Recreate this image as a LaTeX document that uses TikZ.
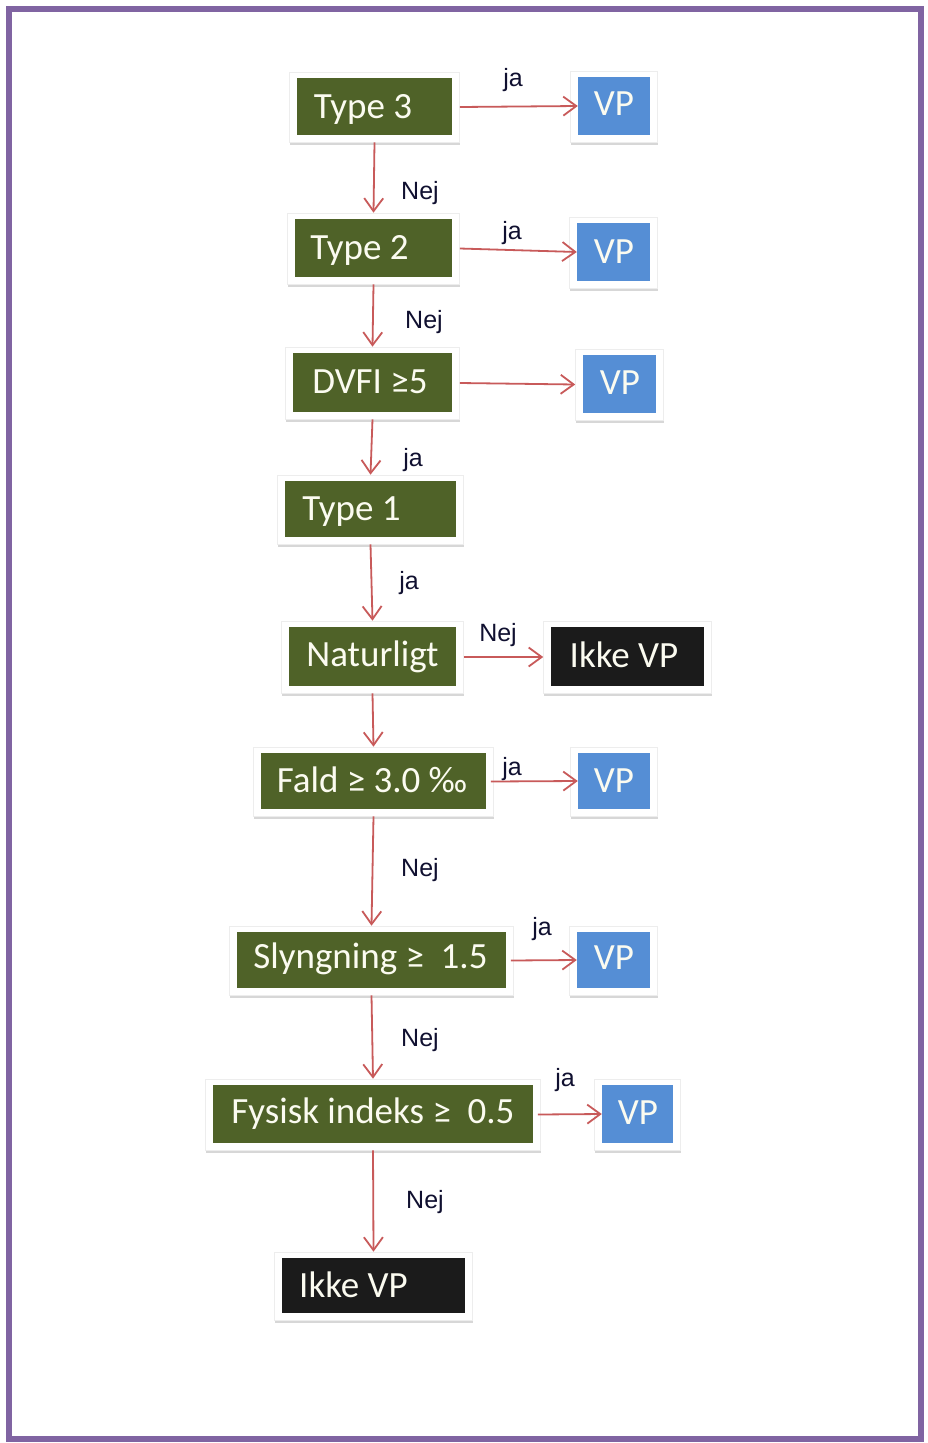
\documentclass[tikz,border=0pt]{standalone}
\usepackage{fontspec}
\setmainfont{Carlito}
\newfontfamily\lblfont{Liberation Sans}
\usetikzlibrary{arrows.meta,shadows}
\definecolor{frameC}{HTML}{8064A2}
\definecolor{greenC}{HTML}{4F6228}
\definecolor{blueC}{HTML}{558ED5}
\definecolor{blackC}{HTML}{1B1B1B}
\definecolor{arrC}{HTML}{C85A5A}
\definecolor{lblC}{HTML}{101030}
\definecolor{txtC}{HTML}{FBFBF0}
\tikzset{
  outerbox/.style={rectangle, inner sep=0pt, fill=white, draw=black!7, line width=0.6pt,
    drop shadow={shadow xshift=0.5pt, shadow yshift=-3pt, opacity=0.22, fill=black!70}},
  innerbox/.style={rectangle, inner sep=0pt, draw=none},
  boxtxt/.style={anchor=base, inner sep=0pt, text=txtC, font=\fontsize{37}{40}\selectfont},
  lbl/.style={inner sep=0pt, text=lblC, font=\lblfont\fontsize{25}{28}\selectfont},
  arr/.style={draw=arrC, line width=1.8pt, -{Straight Barb[length=13pt,width=19pt,line width=1.8pt]}}
}
% name, x1, y1, x2, y2 (inner rectangle), fill colour
\newcommand\mkbox[6]{%
  \pgfmathsetmacro\bxw{#4-#2}\pgfmathsetmacro\bxh{#5-#3}%
  \pgfmathsetmacro\bxc{(#2+#4)/2}\pgfmathsetmacro\byc{(#3+#5)/2}%
  \node[outerbox, minimum width=\bxw pt+15pt, minimum height=\bxh pt+13pt] (#1) at (\bxc,\byc+0.5) {};
  \node[innerbox, fill=#6, minimum width=\bxw pt, minimum height=\bxh pt] (#1i) at (\bxc,\byc) {};
}
\begin{document}
\begin{tikzpicture}[x=1pt,y=-1pt]
\useasboundingbox (0,0) rectangle (927,1443);
\fill[white] (0,0) rectangle (927,1443);
\draw[frameC, line width=6pt] (8.5,8.5) rectangle (921,1439);

\mkbox{t3}{297}{78}{452}{135}{greenC}
\mkbox{vpa}{578}{77}{650}{135}{blueC}
\mkbox{t2}{295}{219}{452}{277}{greenC}
\mkbox{vpb}{577}{223}{650}{281}{blueC}
\mkbox{dv}{293}{353}{452}{412}{greenC}
\mkbox{vpc}{583}{355}{656}{413}{blueC}
\mkbox{t1}{285}{481}{456}{537}{greenC}
\mkbox{nat}{289}{627}{456}{686}{greenC}
\mkbox{ika}{551}{627}{704}{686}{blackC}
\mkbox{fal}{261}{753}{486}{809}{greenC}
\mkbox{vpd}{578}{753}{650}{809}{blueC}
\mkbox{sly}{237}{932}{506}{988}{greenC}
\mkbox{vpe}{577}{932}{650}{988}{blueC}
\mkbox{fys}{213}{1085}{533}{1143}{greenC}
\mkbox{vpf}{602}{1085}{673}{1143}{blueC}
\mkbox{ikb}{282}{1258}{465}{1313}{blackC}

% texts
\node[boxtxt] (t3t) at (363,118) {Type 3};
\node[boxtxt] (vpat) at (614,115) {VP};
\node[boxtxt] (t2t) at (359.5,259) {Type 2};
\node[boxtxt] (vpbt) at (614,263) {VP};
\node[boxtxt] (dvt) at (370,393) {DVFI ≥5};
\node[boxtxt] (vpct) at (620,394) {VP};
\node[boxtxt] (t1t) at (351.5,520) {Type 1};
\node[boxtxt] (natt) at (372.5,666) {Naturligt};
\node[boxtxt] (ikat) at (624,667) {Ikke VP};
\node[boxtxt] (falt) at (372,792) {Fald ≥ 3.0 ‰};
\node[boxtxt] (vpdt) at (614,792) {VP};
\node[boxtxt] (slyt) at (370.5,968) {Slyngning ≥ \ 1.5};
\node[boxtxt] (vpet) at (614,969) {VP};
\node[boxtxt] (fyst) at (373,1123) {Fysisk indeks ≥ \ 0.5};
\node[boxtxt] (vpft) at (638,1124) {VP};
\node[boxtxt] (ikbt) at (353.5,1297) {Ikke VP};

% connectors
\draw[arr] (t3.east) -- (vpai.west);
\draw[arr] (t3.south) -- (t2.north);
\draw[arr] (t2.east) -- (vpbi.west);
\draw[arr] (t2.south) -- (dv.north);
\draw[arr] (dv.east) -- (vpc.west);
\draw[arr] (dv.south) -- (t1.north);
\draw[arr] (t1.south) -- (nat.north);
\draw[arr] (nat.east) -- (ika.west);
\draw[arr] (nat.south) -- (fal.north);
\draw[arr] ([xshift=-3pt]fal.east) -- (vpdi.west);
\draw[arr] (fal.south) -- (sly.north);
\draw[arr] ([xshift=-3pt]sly.east) -- (vpei.west);
\draw[arr] (sly.south) -- (fys.north);
\draw[arr] ([xshift=-3pt]fys.east) -- (vpfi.west);
\draw[arr] (fys.south) -- (ikb.north);

% labels
\node[lbl] (l1) at (513,80) {ja};
\node[lbl] (l2) at (420,193) {Nej};
\node[lbl] (l3) at (512,233) {ja};
\node[lbl] (l4) at (424,322) {Nej};
\node[lbl] (l5) at (413,460) {ja};
\node[lbl] (l6) at (409,583) {ja};
\node[lbl] (l7) at (498,635) {Nej};
\node[lbl] (l8) at (512,769) {ja};
\node[lbl] (l9) at (420,870) {Nej};
\node[lbl] (l10) at (542,929) {ja};
\node[lbl] (l11) at (420,1040) {Nej};
\node[lbl] (l12) at (565,1080) {ja};
\node[lbl] (l13) at (425,1202) {Nej};
\end{tikzpicture}
\end{document}
